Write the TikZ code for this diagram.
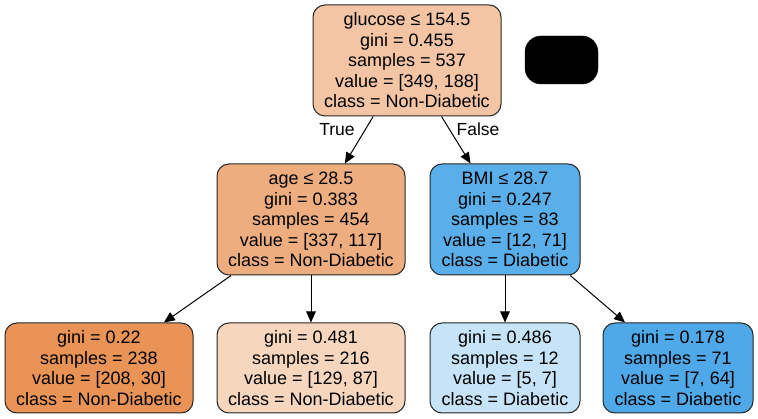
\documentclass[tikz,border=0pt]{standalone}
\usepackage{fontspec}
\setmainfont{Liberation Sans}
\usetikzlibrary{arrows.meta}
\definecolor{croot}{HTML}{F3C5A4}
\definecolor{cage}{HTML}{EEAD7E}
\definecolor{cla}{HTML}{E99356}
\definecolor{clb}{HTML}{F7D6BE}
\definecolor{cbmi}{HTML}{5AAEE9}
\definecolor{clc}{HTML}{C6E3F8}
\definecolor{cld}{HTML}{4FA8E8}
\begin{document}
\begin{tikzpicture}[x=1pt,y=-1pt,
  tn/.style={draw=black!85, line width=1pt, rounded corners=12pt, align=center,
    inner sep=0pt, font=\fontsize{18}{20.5}\selectfont, minimum height=111pt},
  wide/.style={minimum width=188pt},
  narrow/.style={minimum width=150pt},
  leafbox/.style={minimum height=90pt},
  edge/.style={-{Triangle[length=11pt,width=9.5pt]}, line width=1pt},
  elab/.style={font=\fontsize{17.5}{20}\selectfont, inner sep=0pt}]
\useasboundingbox (0,0) rectangle (758,419);
\node[tn, wide, fill=croot] (root) at (407,60.5)
  {glucose ≤ 154.5\\gini = 0.455\\samples = 537\\value = [349, 188]\\class = Non-Diabetic};
\node[draw=black, fill=black, rounded corners=16pt, minimum width=73pt, minimum height=48pt, inner sep=0pt] (blk) at (561.5,60) {};
\node[tn, wide, fill=cage] (age) at (311,219.5)
  {age ≤ 28.5\\gini = 0.383\\samples = 454\\value = [337, 117]\\class = Non-Diabetic};
\node[tn, narrow, fill=cbmi] (bmi) at (505,219.5)
  {BMI ≤ 28.7\\gini = 0.247\\samples = 83\\value = [12, 71]\\class = Diabetic};
\node[tn, wide, leafbox, fill=cla] (l1) at (99,368)
  {gini = 0.22\\samples = 238\\value = [208, 30]\\class = Non-Diabetic};
\node[tn, wide, leafbox, fill=clb] (l2) at (311,368)
  {gini = 0.481\\samples = 216\\value = [129, 87]\\class = Non-Diabetic};
\node[tn, narrow, leafbox, fill=clc] (l3) at (505,368)
  {gini = 0.486\\samples = 12\\value = [5, 7]\\class = Diabetic};
\node[tn, narrow, leafbox, fill=cld] (l4) at (678,368)
  {gini = 0.178\\samples = 71\\value = [7, 64]\\class = Diabetic};
\draw[edge] (root) -- (age);
\draw[edge] (root) -- (bmi);
\draw[edge] (age) -- (l1);
\draw[edge] (age) -- (l2);
\draw[edge] (bmi) -- (l3);
\draw[edge] (bmi) -- (l4);
\node[elab] (ltrue) at (337,129.5) {True};
\node[elab] (lfalse) at (478,129.5) {False};
\end{tikzpicture}
\end{document}
